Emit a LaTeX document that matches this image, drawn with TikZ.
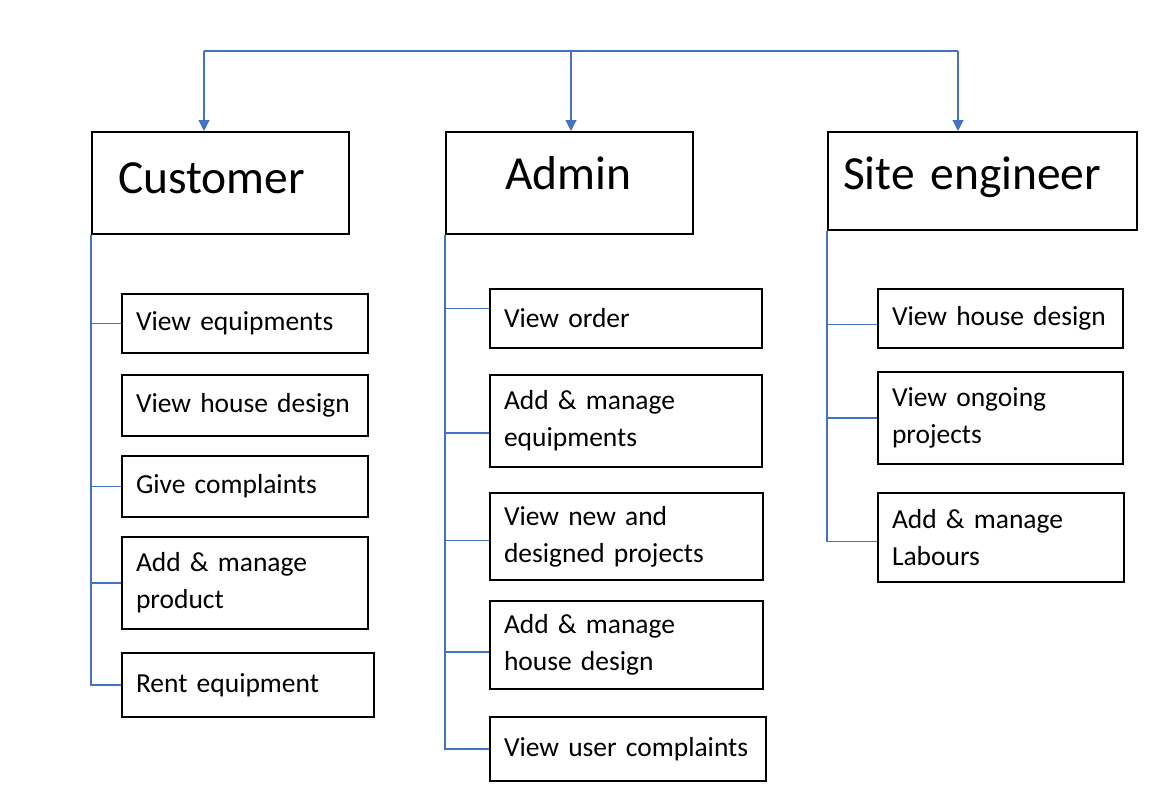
\documentclass[tikz,border=0pt]{standalone}
\usepackage{fontspec}
\setmainfont{Carlito}
\usetikzlibrary{arrows.meta}

\definecolor{linkblue}{HTML}{4472C4}

\begin{document}
\begin{tikzpicture}[x=1pt,y=-1pt,
    role/.style={draw=black, line width=2pt, anchor=north west, align=left,
        inner ysep=0pt, font=\fontsize{47.5}{57}\selectfont},
    item/.style={draw=black, line width=2pt, anchor=north west, align=left,
        inner xsep=14pt, inner ysep=0pt, font=\fontsize{27.5}{37}\selectfont},
    link/.style={draw=linkblue, line width=1.1pt},
    down/.style={link, -{Triangle[width=11pt,length=11pt]}}]
            \useasboundingbox (0,0) rectangle (1168,807);

            % roles
            \node[role, inner xsep=26pt, text width=205, text height=61, text depth=41] (cust) at (91,131) {Customer};
            \node[role, inner xsep=59pt, text width=129, text height=57, text depth=45] (adm) at (445,131) {Admin};
            \node[role, inner xsep=15pt, text width=279, text height=57, text depth=41] (site) at (827,131) {Site engineer};

            % top line
            \coordinate (tl) at (204,51);
            \coordinate (tm) at (571,51);
            \coordinate (tr) at (958,51);
            \draw[link] (tl) -- (tr);
            \draw[down] (tl) -- (tl |- cust.north);
            \draw[down] (tm) -- (tm |- adm.north);
            \draw[down] (tr) -- (tr |- site.north);

            % customer
            \node[item, text width=218, minimum height=59] (ce1) at (121,293) {View equipments};
            \node[item, text width=218, minimum height=61] (ce2) at (121,374) {View house design};
            \node[item, text width=218, minimum height=61] (ce3) at (121,455) {Give complaints};
            \node[item, text width=218, minimum height=92] (ce4) at (121,536) {Add \& manage\\product};
            \node[item, text width=224, minimum height=64] (ce5) at (121,652) {Rent equipment};

            \draw[link] (cust.south west) |- (ce1.west);
            \draw[link] (cust.south west) |- (ce3.west);
            \draw[link] (cust.south west) |- (ce4.west);
            \draw[link] (cust.south west) |- (ce5.west);

            % admin
            \node[item, text width=244, minimum height=59] (ad1) at (489,288) {View order};
            \node[item, text width=244, minimum height=92] (ad2) at (489,374) {Add \& manage\\equipments};
            \node[item, text width=245, minimum height=87] (ad3) at (489,492) {View new and\\designed projects};
            \node[item, text width=245, minimum height=88] (ad4) at (489,600) {Add \& manage\\house design};
            \node[item, text width=248, minimum height=64] (ad5) at (489,716) {View user complaints};

            \draw[link] (adm.south west) |- ([yshift=10]ad1.west);
            \draw[link] (adm.south west) |- ([yshift=-12]ad2.west);
            \draw[link] (adm.south west) |- ([yshift=-4]ad3.west);
            \draw[link] (adm.south west) |- ([yshift=-7]ad4.west);
            \draw[link] (adm.south west) |- (ad5.west);

            % site engineer
            \node[item, text width=217, minimum height=59] (se1) at (877,288) {View house design};
            \node[item, text width=217, minimum height=92] (se2) at (877,371) {View ongoing\\projects};
            \node[item, text width=218, minimum height=89] (se3) at (877,492) {Add \& manage\\Labours};

            \draw[link] (site.south west) |- ([yshift=-6]se1.west);
            \draw[link] (site.south west) |- (se2.west);
            \draw[link] (site.south west) |- ([yshift=-4]se3.west);
\end{tikzpicture}
\end{document}
